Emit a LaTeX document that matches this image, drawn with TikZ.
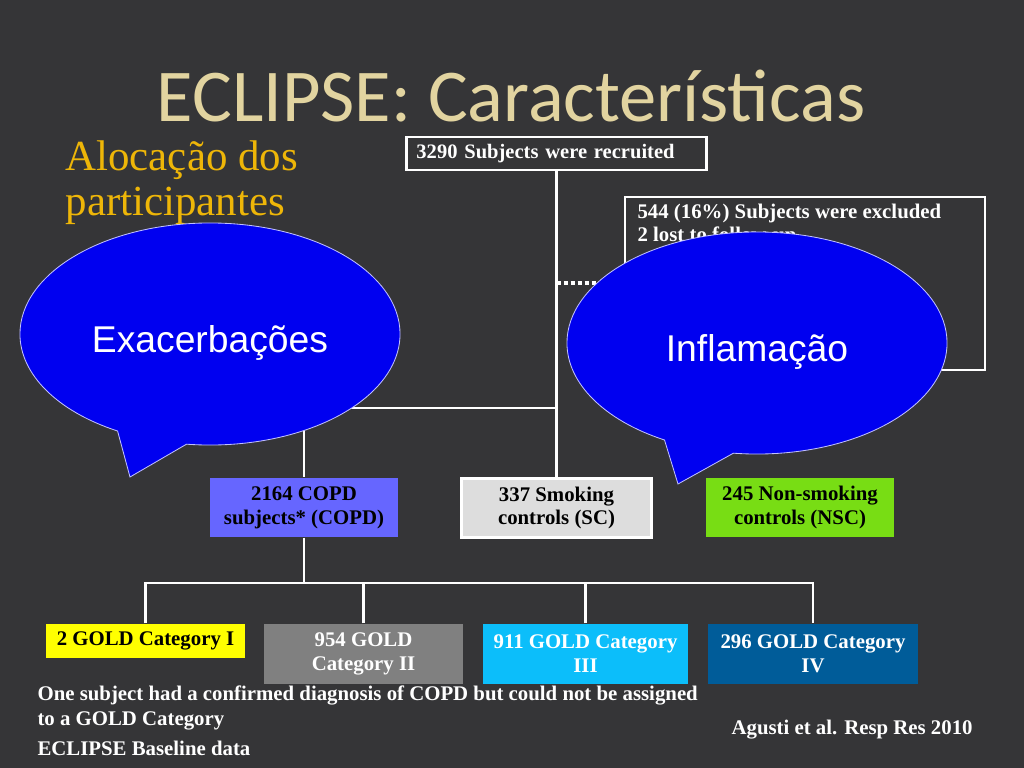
\documentclass[tikz,border=0pt]{standalone}
\usepackage{fontspec}
\setmainfont{Liberation Serif}
\newfontfamily\titlefont{Carlito}
\newfontfamily\bubblefont{Liberation Sans}
\usetikzlibrary{shapes.callouts}

\definecolor{bg}{RGB}{53,53,55}
\definecolor{titlecol}{RGB}{226,212,160}
\definecolor{goldcol}{RGB}{238,182,8}
\definecolor{copdcol}{RGB}{102,102,255}
\definecolor{sccol}{RGB}{221,221,221}
\definecolor{nsccol}{RGB}{120,221,20}
\definecolor{gonecol}{RGB}{255,255,0}
\definecolor{gtwocol}{RGB}{128,128,128}
\definecolor{gthreecol}{RGB}{12,190,250}
\definecolor{gfourcol}{RGB}{0,92,153}
\definecolor{bubblecol}{RGB}{0,0,240}

\begin{document}
\begin{tikzpicture}[x=0.025cm,y=-0.025cm,thick]
      \tikzstyle{box}=[rectangle,draw=white,line width=2pt,fill=bg,
        text=white,inner sep=0pt]
      \tikzstyle{grp}=[rectangle,inner sep=0pt,align=center,
        minimum height=1.475cm,
        font=\bfseries\fontsize{14.8}{17}\selectfont]
      \tikzstyle{cat}=[rectangle,inner sep=0pt,align=center,
        minimum height=1.5cm,text=white,
        font=\bfseries\fontsize{14.8}{17}\selectfont]
      \tikzstyle{bubble}=[ellipse callout,fill=bubblecol,draw=white!75!blue,
        line width=0.6pt,minimum width=9.5cm,minimum height=5.55cm,
        callout pointer arc=22,text=white,text height=0.9cm,text depth=0cm,
        font=\bubblefont\fontsize{26.5}{30}\selectfont]
      \tikzstyle{note}=[text=white,inner sep=0pt,align=left,
        font=\bfseries\fontsize{14.8}{17.8}\selectfont]

      \useasboundingbox (0,0) rectangle (1024,768);
      \fill[bg] (0,0) rectangle (1024,768);

      \node[text=titlecol,inner sep=0pt,text depth=0pt,anchor=base,
           font=\titlefont\fontsize{53}{53}\selectfont]
           (TT) at (511,122) {ECLIPSE: Características};
      \node[anchor=north west,text=goldcol,align=left,inner sep=0pt,
           font=\fontsize{30.5}{32}\selectfont]
           (AL) at (65,140) {Alocação dos\\participantes};

      \node[box,text width=7cm,inner xsep=0.25cm,minimum height=0.825cm,
           align=left,font=\bfseries\fontsize{14.6}{15}\selectfont]
           (REC) at (556.5,153.5) {3290 Subjects were recruited};
      \node[box,minimum width=9cm,minimum height=4.325cm] (EXC) at (805,283.5) {};
      \node[note,anchor=north west,font=\bfseries\fontsize{14.8}{16.4}\selectfont]
           (EXT) at (637,203) {544 (16\%) Subjects were excluded\\2 lost to follow-up};

      \node[grp,fill=copdcol,minimum width=4.7cm]  (COPD) at (304,507.5)
           {2164 COPD\\subjects* (COPD)};
      \node[grp,fill=sccol,draw=white,line width=1.5pt,minimum width=4.75cm]
           (SC) at (556.5,508) {337 Smoking\\controls (SC)};
      \node[grp,fill=nsccol,minimum width=4.7cm]   (NSC) at (800,507.5)
           {245 Non-smoking\\controls (NSC)};

      \node[cat,fill=gonecol,text=black,minimum width=4.975cm,minimum height=0.85cm]
           (G1) at (145.5,641) {2 GOLD Category I};
      \node[cat,fill=gtwocol,minimum width=4.975cm]  (G2) at (363.5,654)
           {954 GOLD\\Category II};
      \node[cat,fill=gthreecol,minimum width=5.125cm] (G3) at (585.5,654)
           {911 GOLD Category\\III};
      \node[cat,fill=gfourcol,minimum width=5.25cm]  (G4) at (813,654)
           {296 GOLD Category\\IV};

      \tikzstyle{ln}=[draw=white,line width=2pt]
      \tikzstyle{dot}=[draw=white,line width=3pt,dotted]

      \coordinate (B) at (556.5,408);
      \coordinate (D) at (556.5,283);
      \coordinate (T) at (304,583);

      \draw[ln] (REC) -- (SC);
      \draw[ln] (B) -| (COPD.north);
      \draw[dot] (D) -- (EXC.west |- D);
      \draw[ln] (COPD) -- (T);
      \draw[ln] (G1.north) |- (T) -| (G4.north);
      \draw[ln] (G2.north) -- (G2.north |- T);
      \draw[ln] (G3.north) -- (G3.north |- T);

      \node[bubble,callout absolute pointer={(130,477)}]
           (EXA) at (210,334) {Exacerbações};
      \node[bubble,callout absolute pointer={(678,484)}]
           (INF) at (757,343) {Inflamação};

      \node[note,anchor=north west] (FN) at (37,685)
           {One subject had a confirmed diagnosis of COPD but could not be assigned\\to a GOLD Category};
      \node[note,anchor=west] (SRC) at (37,748) {ECLIPSE Baseline data};
      \node[note,anchor=west] (REF) at (731,730) {Agusti et al. Resp Res 2010};

    \end{tikzpicture}
\end{document}
